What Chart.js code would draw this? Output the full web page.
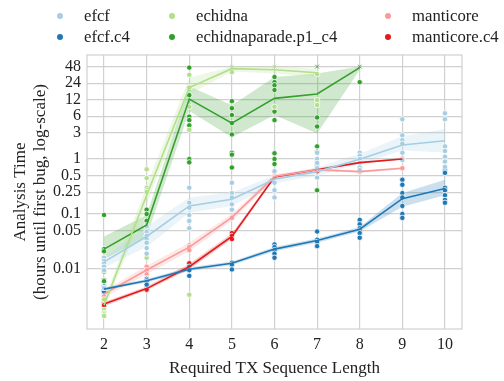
<!DOCTYPE html>
<html>
<head>
<meta charset="utf-8">
<script src="https://cdn.jsdelivr.net/npm/chart.js@4"></script>
<style>
  body { margin: 0; background: #fff; }
  #wrap { position: relative; width: 504px; height: 381px; }
  #legend { position: absolute; left: 0; top: 0; width: 504px; height: 50px;
    font-family: "Liberation Serif", serif; font-size: 16.7px; color: #222; }
  .item { position: absolute; white-space: nowrap; line-height: 18px; }
  .dot { position: absolute; width: 6px; height: 6px; border-radius: 50%; top: 6px; }
  .lbl { position: absolute; left: 27px; top: 0; }
</style>
</head>
<body>
<div id="wrap">
  <canvas id="chart-analysis-time"></canvas>
  <div id="legend"></div>
</div>
<script>
// x categories and y tick labels
const xTicks = [2, 3, 4, 5, 6, 7, 8, 9, 10];
const yTicks = [0.01, 0.05, 0.1, 0.25, 0.5, 1, 3, 6, 12, 24, 48];

// efcf
const efcfX = [2, 3, 4, 5, 6, 7, 8, 9, 10];
const efcfMean = [0.0135, 0.039, 0.14, 0.185, 0.43, 0.59, 0.99, 1.8, 2.15];
const efcfLow = [0.0105, 0.025, 0.105, 0.14, 0.36, 0.5, 0.8, 1.45, 1.3];
const efcfHigh = [0.016, 0.059, 0.2, 0.25, 0.5, 0.7, 1.25, 2.6, 3.5];
const efcfRuns = [
  [0.016, 0.014, 0.0125, 0.011, 0.0095, 0.0045],
  [0.06, 0.047, 0.04, 0.035, 0.03, 0.024, 0.019],
  [0.3, 0.16, 0.13, 0.096, 0.075, 0.055],
  [0.37, 0.24, 0.2, 0.15, 0.12],
  [0.6, 0.45, 0.37, 0.27, 0.2],
  [1.3, 1.0, 0.85, 0.68, 0.46],
  [1.3, 1.15, 1.0, 0.85, 0.7, 0.63],
  [5.3, 2.7, 2.2, 1.9, 1.3, 0.96],
  [6.8, 5.3, 1.7, 1.4, 1.1, 0.9, 0.72],
];

// efcf.c4
const efcfC4X = [2, 3, 4, 5, 6, 7, 8, 9, 10];
const efcfC4Mean = [0.0043, 0.0061, 0.0099, 0.0127, 0.023, 0.033, 0.053, 0.19, 0.29];
const efcfC4Low = [0.0041, 0.0057, 0.0092, 0.0118, 0.021, 0.03, 0.048, 0.135, 0.22];
const efcfC4High = [0.0046, 0.0066, 0.0107, 0.0137, 0.025, 0.036, 0.058, 0.24, 0.42];
const efcfC4Runs = [
  [0.0048, 0.0045, 0.0043, 0.0041, 0.0039],
  [0.0066, 0.0062, 0.0058, 0.0052],
  [0.011, 0.0095, 0.0075],
  [0.013, 0.012, 0.0098],
  [0.028, 0.025, 0.022, 0.019, 0.016],
  [0.048, 0.034, 0.031, 0.026],
  [0.078, 0.065, 0.055, 0.05, 0.045, 0.037],
  [0.42, 0.34, 0.24, 0.2, 0.14, 0.1, 0.085],
  [0.63, 0.56, 0.3, 0.27, 0.22, 0.18, 0.16],
];

// echidna
const echidnaX = [2, 3, 4, 5, 6, 7];
const echidnaMean = [0.0022, 0.22, 20, 44, 42, 37];
const echidnaLow = [0.0018, 0.15, 15, 39, 36, 31];
const echidnaHigh = [0.0027, 0.33, 30, 48, 48, 44];
const echidnaRuns = [
  [0.0028, 0.0018, 0.0016, 0.0015, 0.0014],
  [0.65, 0.45, 0.3, 0.27, 0.25, 0.016],
  [34, 20, 8.9, 3.4, 0.0034],
  [48, 38],
  [48, 8.9],
  [35, 11.8, 9.6],
];

// echidnaparade.p1_c4
const paradeX = [2, 3, 4, 5, 6, 7, 8];
const paradeMean = [0.023, 0.063, 12.3, 4.5, 12.7, 15.2, 46];
const paradeLow = [0.015, 0.039, 7.5, 2.5, 6.3, 2.9, 42];
const paradeHigh = [0.039, 0.096, 21, 9.5, 31, 36, 48];
const paradeRuns = [
  [0.096, 0.023, 0.021, 0.0146, 0.0096, 0.009, 0.0063, 0.006, 0.0045, 0.004],
  [0.12, 0.1, 0.075, 0.063, 0.058, 0.05, 0.04, 0.03],
  [46, 20, 19, 14.5, 5.9, 5.1, 4.1, 1.0, 0.87],
  [11.3, 8.4, 6.3, 4.5, 2.8, 1.3, 1.2, 0.7],
  [31, 25, 22, 18, 7.3, 5.1, 1.27, 1.0, 0.81],
  [48, 5.7, 3.9, 1.7, 1.36, 0.81, 0.27],
  [48, 25],
];

// manticore
const manticoreX = [2, 3, 4, 5, 6, 7, 8, 9];
const manticoreMean = [0.0035, 0.0096, 0.025, 0.087, 0.48, 0.64, 0.59, 0.68];
const manticoreLow = [0.003, 0.008, 0.021, 0.076, 0.43, 0.6, 0.56, 0.65];
const manticoreHigh = [0.004, 0.0115, 0.03, 0.1, 0.53, 0.68, 0.62, 0.71];
const manticoreRuns = [
  [0.0038, 0.0035, 0.0032],
  [0.011, 0.0095, 0.008, 0.0068],
  [0.027, 0.025, 0.022],
  [0.09, 0.085],
  [0.5, 0.48],
  [0.65],
  [0.59],
  [0.68],
];

// manticore.c4
const manticoreC4X = [2, 3, 4, 5, 6, 7, 8, 9];
const manticoreC4Mean = [0.0023, 0.0044, 0.011, 0.039, 0.47, 0.64, 0.86, 1.0];
const manticoreC4Low = [0.0021, 0.0041, 0.0098, 0.035, 0.45, 0.61, 0.82, 0.98];
const manticoreC4High = [0.0025, 0.0048, 0.0125, 0.044, 0.5, 0.68, 0.9, 1.03];
const manticoreC4Runs = [
  [0.0024, 0.0023, 0.0022],
  [0.0046, 0.0044, 0.0042],
  [0.0127, 0.0107, 0.01],
  [0.045, 0.04, 0.035],
  [0.5, 0.47, 0.45],
  [0.7, 0.65, 0.6],
  [0.9, 0.86],
  [1.0],
];

const series = [
  { label: "efcf", color: "#a6cee3", x: efcfX, mean: efcfMean, low: efcfLow, high: efcfHigh, runs: efcfRuns },
  { label: "efcf.c4", color: "#1f78b4", x: efcfC4X, mean: efcfC4Mean, low: efcfC4Low, high: efcfC4High, runs: efcfC4Runs },
  { label: "echidna", color: "#b2df8a", x: echidnaX, mean: echidnaMean, low: echidnaLow, high: echidnaHigh, runs: echidnaRuns },
  { label: "echidnaparade.p1_c4", color: "#33a02c", x: paradeX, mean: paradeMean, low: paradeLow, high: paradeHigh, runs: paradeRuns },
  { label: "manticore", color: "#fb9a99", x: manticoreX, mean: manticoreMean, low: manticoreLow, high: manticoreHigh, runs: manticoreRuns },
  { label: "manticore.c4", color: "#e31a1c", x: manticoreC4X, mean: manticoreC4Mean, low: manticoreC4Low, high: manticoreC4High, runs: manticoreC4Runs },
];

function alpha(hex, a) {
  const n = parseInt(hex.slice(1), 16);
  return "rgba(" + (n >> 16) + "," + ((n >> 8) & 255) + "," + (n & 255) + "," + a + ")";
}
const pts = (xs, ys) => xs.map((x, i) => ({ x: x, y: ys[i] }));

const datasets = [];
series.forEach((s) => {
  // band: upper filled down to lower
  datasets.push({
    label: s.label + " hi", data: pts(s.x, s.high), showLine: true, pointRadius: 0,
    borderWidth: 0, borderColor: "transparent", backgroundColor: alpha(s.color, 0.23),
    fill: "+1", order: 3,
  });
  datasets.push({
    label: s.label + " lo", data: pts(s.x, s.low), showLine: true, pointRadius: 0,
    borderWidth: 0, borderColor: "transparent", fill: false, order: 3,
  });
});
series.forEach((s) => {
  const runPts = [];
  s.runs.forEach((vals, i) => vals.forEach((v) => runPts.push({ x: s.x[i], y: v })));
  datasets.push({
    label: s.label + " runs", data: runPts, showLine: false, order: 2,
    pointRadius: 2.7, pointBorderWidth: 0.8, pointBackgroundColor: s.color,
    pointStyle: (c) => (c.raw && c.raw.y >= 48 ? "crossRot" : "circle"),
    pointBorderColor: (c) => (c.raw && c.raw.y >= 48 ? s.color : "#fff"),
  });
});
series.forEach((s) => {
  datasets.push({
    label: s.label, data: pts(s.x, s.mean), showLine: true, pointRadius: 0,
    borderWidth: 1.6, borderColor: s.color, fill: false, order: 1,
  });
});

const frame = {
  id: "frame",
  afterDraw(chart) {
    const a = chart.chartArea, c = chart.ctx;
    c.save();
    c.strokeStyle = "#d0d0d0";
    c.lineWidth = 1.2;
    c.strokeRect(a.left, a.top, a.right - a.left, a.bottom - a.top);
    c.restore();
  },
};

const font = { family: "Liberation Serif", size: 16 };

new Chart(document.getElementById("chart-analysis-time"), {
  type: "scatter",
  data: { datasets: datasets },
  plugins: [frame],
  options: {
    responsive: true,
    maintainAspectRatio: false,
    animation: false,
    layout: { padding: { top: 55, right: 42, left: 0, bottom: 0 } },
    plugins: { legend: { display: false }, tooltip: { enabled: false } },
    scales: {
      x: {
        type: "linear", min: 1.6, max: 10.4,
        afterBuildTicks: (s) => { s.ticks = xTicks.map((v) => ({ value: v })); },
        afterFit: (s) => { s.height = 52; },
        grid: { color: "#d0d0d0", lineWidth: 1.2, drawTicks: false },
        border: { display: false },
        ticks: { color: "#222", font: font, padding: 6, maxRotation: 0 },
        title: { display: true, text: "Required TX Sequence Length", color: "#222",
          font: { family: "Liberation Serif", size: 17 }, padding: { top: 4, bottom: 2 } },
      },
      y: {
        type: "logarithmic", min: 0.00081, max: 78,
        afterBuildTicks: (s) => { s.ticks = yTicks.map((v) => ({ value: v })); },
        afterFit: (s) => { s.width = 87; },
        grid: { color: "#d0d0d0", lineWidth: 1.2, drawTicks: false },
        border: { display: false },
        ticks: { color: "#222", font: font, padding: 6, callback: (v) => String(v) },
        title: { display: true, text: ["Analysis Time", "(hours until first bug, log-scale)"],
          color: "#222", font: { family: "Liberation Serif", size: 17, lineHeight: 1.2 },
          padding: { top: 10, bottom: 0 } },
      },
    },
  },
});

// legend, three columns
const legendCols = [
  { left: 57, items: [0, 1] },
  { left: 169, items: [2, 3] },
  { left: 385, items: [4, 5] },
];
const legendEl = document.getElementById("legend");
legendCols.forEach((col) => {
  col.items.forEach((si, row) => {
    const s = series[si];
    const it = document.createElement("div");
    it.className = "item";
    it.style.left = col.left + "px";
    it.style.top = (7 + row * 21) + "px";
    it.innerHTML = '<span class="dot" style="background:' + s.color + '"></span><span class="lbl"></span>';
    it.querySelector(".lbl").textContent = s.label;
    legendEl.appendChild(it);
  });
});
</script>
</body>
</html>
